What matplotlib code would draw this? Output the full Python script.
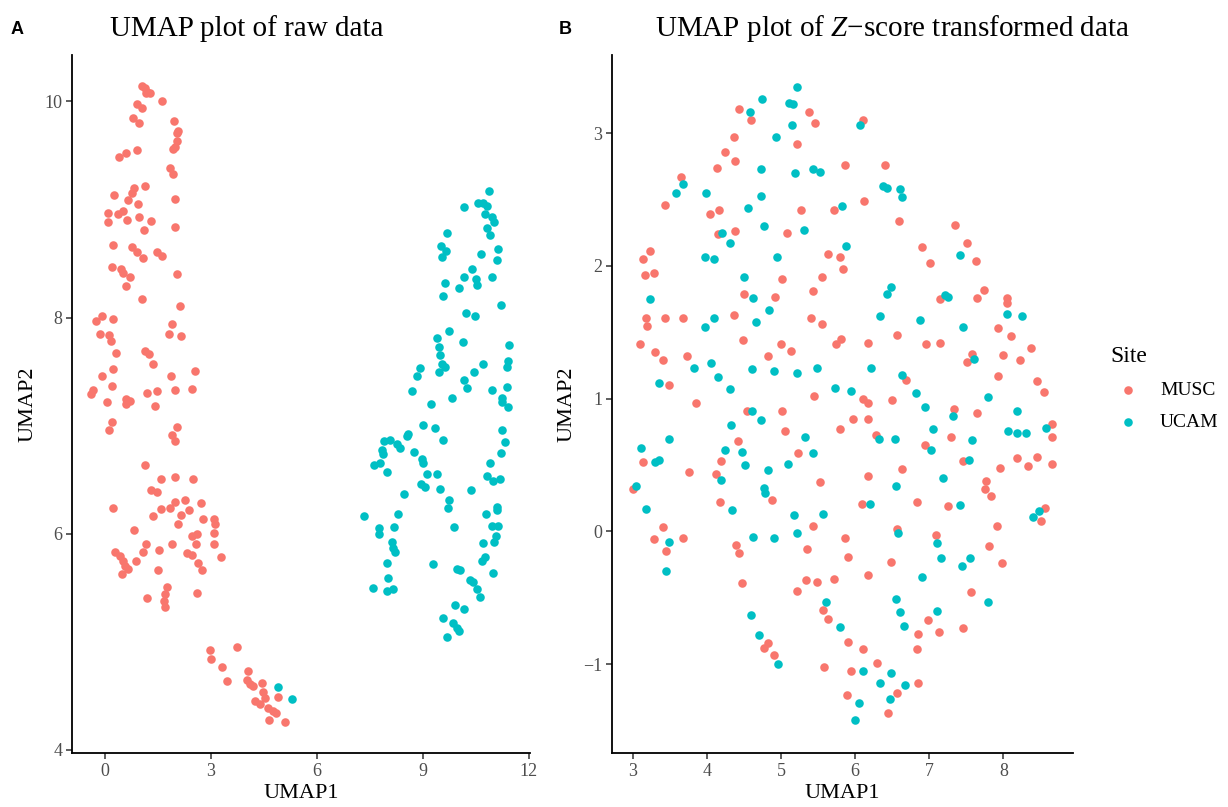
import matplotlib
matplotlib.use("Agg")
import matplotlib.pyplot as plt
import numpy as np

plt.rcParams['font.family'] = ['Liberation Serif', 'DejaVu Serif']
plt.rcParams['mathtext.fontset'] = 'custom'
plt.rcParams['mathtext.rm'] = 'Liberation Serif'
plt.rcParams['mathtext.it'] = 'Liberation Serif:italic'

MUSC_COLOR = '#F8766D'
UCAM_COLOR = '#00BFC4'

# panel A: raw data
raw_musc = [
    (1.04, 10.14), (1.13, 10.12), (1.20, 10.09), (1.27, 10.08), (1.16, 10.08), (1.61, 10.00), (0.90, 9.98),
    (1.04, 9.94), (0.80, 9.85), (0.96, 9.80), (1.96, 9.82), (2.08, 9.73), (2.05, 9.71), (2.03, 9.63),
    (1.98, 9.58), (1.94, 9.56), (0.41, 9.49), (0.61, 9.52), (0.90, 9.55), (1.84, 9.38), (1.94, 9.33),
    (1.15, 9.22), (0.82, 9.20), (0.76, 9.15), (0.66, 9.09), (0.26, 9.13), (0.93, 9.05), (1.98, 9.10),
    (0.09, 8.97), (0.38, 8.96), (0.52, 8.99), (0.08, 8.88), (0.64, 8.90), (0.96, 8.93), (1.30, 8.89),
    (1.11, 8.81), (2.00, 8.84), (0.24, 8.67), (0.76, 8.65), (0.90, 8.61), (1.08, 8.55), (1.48, 8.61),
    (1.63, 8.57), (0.19, 8.47), (0.47, 8.45), (0.52, 8.41), (0.71, 8.38), (0.59, 8.29), (2.03, 8.40),
    (1.04, 8.17), (2.14, 8.11), (-0.25, 7.97), (-0.09, 8.01), (0.22, 7.99), (-0.14, 7.85), (0.12, 7.84),
    (0.17, 7.78), (1.89, 7.94), (1.82, 7.85), (2.17, 7.83), (0.33, 7.67), (1.13, 7.69), (1.25, 7.66),
    (1.37, 7.57), (0.22, 7.52), (-0.07, 7.46), (1.87, 7.46), (2.55, 7.51), (-0.33, 7.33), (-0.38, 7.29),
    (0.19, 7.37), (0.05, 7.22), (0.59, 7.25), (0.71, 7.23), (0.61, 7.20), (1.18, 7.30), (1.49, 7.32),
    (1.98, 7.33), (2.48, 7.34), (1.42, 7.18),
    (0.19, 7.03), (0.12, 6.96), (2.03, 6.99), (1.89, 6.91), (1.98, 6.86), (1.13, 6.64), (1.58, 6.51),
    (1.98, 6.52), (2.50, 6.51), (1.30, 6.40), (1.48, 6.39), (0.22, 6.24), (1.58, 6.23), (1.84, 6.24),
    (1.98, 6.29), (2.27, 6.31), (2.39, 6.22), (2.71, 6.28), (2.17, 6.17), (2.08, 6.09), (1.37, 6.16),
    (2.77, 6.14), (3.09, 6.14), (3.12, 6.09), (3.09, 6.01), (0.82, 6.03), (2.46, 5.98), (2.60, 6.00),
    (2.58, 5.90), (3.09, 5.90), (3.29, 5.78), (0.28, 5.83), (0.42, 5.79), (0.52, 5.75), (0.57, 5.70),
    (0.66, 5.67), (0.50, 5.63), (0.88, 5.75), (1.08, 5.83), (1.16, 5.90), (1.54, 5.85), (1.89, 5.90),
    (2.32, 5.82), (2.46, 5.80), (2.64, 5.73), (2.74, 5.66), (1.51, 5.66), (1.75, 5.51), (1.70, 5.44),
    (1.67, 5.38), (1.70, 5.32), (1.20, 5.40), (2.60, 5.45), (2.99, 4.92), (3.02, 4.84), (3.73, 4.95),
    (3.31, 4.77), (3.45, 4.64), (4.06, 4.73), (4.03, 4.65), (4.11, 4.61), (4.20, 4.59), (4.44, 4.62),
    (4.47, 4.53), (4.53, 4.48), (4.25, 4.45), (4.39, 4.42), (4.63, 4.39), (4.77, 4.36), (4.86, 4.34),
    (4.66, 4.28), (4.91, 4.49), (5.10, 4.26),
]
raw_ucam = [
    (4.91, 4.58), (5.31, 4.47),
    (10.88, 9.17), (10.18, 9.02), (10.58, 9.06), (10.72, 9.06), (10.81, 9.03), (10.76, 8.96), (10.95, 8.93),
    (11.02, 8.88), (10.81, 8.83), (10.91, 8.76), (9.68, 8.78), (9.52, 8.66), (9.66, 8.62), (9.54, 8.56),
    (10.64, 8.59), (11.12, 8.63), (11.10, 8.53), (10.39, 8.45), (10.17, 8.38), (10.51, 8.36), (10.53, 8.30),
    (10.95, 8.38), (9.63, 8.32), (10.03, 8.27), (9.58, 8.20), (11.21, 8.12), (10.23, 8.04), (10.48, 8.01),
    (9.75, 7.88), (10.15, 7.77), (9.42, 7.81), (9.46, 7.73), (9.49, 7.65), (9.54, 7.57), (9.47, 7.50),
    (9.63, 7.54), (11.45, 7.75), (11.43, 7.60), (11.38, 7.54), (10.72, 7.57), (10.45, 7.50), (10.17, 7.42),
    (10.25, 7.35), (10.95, 7.33), (11.40, 7.36), (11.24, 7.26), (9.82, 7.26), (8.69, 7.32), (8.92, 7.53),
    (8.83, 7.46),
    (9.25, 7.20), (11.24, 7.22), (11.43, 7.17), (9.02, 7.01), (9.35, 6.98), (9.57, 6.87), (8.59, 6.92),
    (8.55, 6.90), (7.90, 6.86), (8.07, 6.87), (8.26, 6.83), (8.36, 6.79), (7.84, 6.77), (7.87, 6.74),
    (8.75, 6.76), (8.97, 6.69), (9.00, 6.65), (7.62, 6.64), (7.79, 6.65), (7.98, 6.57), (9.11, 6.55),
    (9.40, 6.55), (8.94, 6.46), (9.07, 6.43), (9.49, 6.41), (8.48, 6.37), (10.36, 6.40), (9.75, 6.31),
    (9.73, 6.24), (11.24, 6.96), (11.33, 6.85), (11.21, 6.75), (10.91, 6.65), (10.83, 6.53), (11.00, 6.49),
    (11.19, 6.51), (10.79, 6.18), (11.10, 6.25), (11.11, 6.22), (8.31, 6.18), (7.35, 6.16), (7.76, 6.05),
    (7.76, 6.00), (8.19, 6.06), (8.12, 5.92), (8.17, 5.87), (8.22, 5.83), (9.89, 6.06), (10.72, 5.91),
    (10.95, 6.07), (11.14, 6.07), (11.08, 5.98), (11.02, 5.92), (8.00, 5.73), (8.03, 5.59), (8.00, 5.47),
    (8.17, 5.49), (7.58, 5.50), (9.30, 5.72), (9.98, 5.67), (10.06, 5.66), (10.34, 5.57), (10.43, 5.55),
    (10.53, 5.49), (10.62, 5.41), (10.67, 5.75), (10.76, 5.78), (11.00, 5.64), (9.92, 5.34), (10.17, 5.30),
    (9.58, 5.22), (9.85, 5.17), (9.96, 5.13), (10.04, 5.10), (9.70, 5.04),
]

# panel B: z-score transformed data
z_musc = [
    (4.44, 3.18), (4.59, 3.10), (5.38, 3.16), (5.46, 3.08), (6.10, 3.10), (4.36, 2.97), (5.21, 2.92),
    (4.25, 2.86), (4.13, 2.74), (4.38, 2.79), (5.87, 2.76), (3.65, 2.67), (3.43, 2.46), (4.04, 2.39),
    (4.16, 2.42), (5.27, 2.42), (5.72, 2.42), (6.12, 2.49), (4.15, 2.24), (4.38, 2.26), (5.08, 2.25),
    (3.14, 2.05), (3.23, 2.11), (3.17, 1.93), (3.29, 1.95), (5.63, 2.09), (5.80, 2.07), (5.83, 1.98),
    (5.02, 1.90), (5.56, 1.92), (4.50, 1.79), (4.92, 1.77), (5.43, 1.81), (3.18, 1.61), (3.19, 1.55),
    (3.43, 1.61), (3.68, 1.61), (4.37, 1.63), (5.40, 1.61), (5.56, 1.56), (3.10, 1.41), (4.49, 1.44),
    (5.00, 1.41), (5.14, 1.36), (5.74, 1.41), (5.81, 1.45), (6.18, 1.42), (3.30, 1.35), (3.41, 1.29),
    (3.73, 1.32), (4.82, 1.32), (3.49, 1.10), (5.45, 1.02), (6.11, 1.00), (6.17, 0.97),
    (3.85, 0.97), (4.54, 0.91), (5.02, 0.91), (5.05, 0.76), (4.42, 0.68), (5.80, 0.77), (5.97, 0.85),
    (6.17, 0.85), (3.14, 0.52), (3.76, 0.45), (4.19, 0.53), (4.12, 0.43), (4.18, 0.22), (4.88, 0.24),
    (5.23, 0.59), (5.52, 0.37), (6.17, 0.42), (6.09, 0.21), (3.01, 0.32), (5.43, 0.04), (3.41, 0.03),
    (3.28, -0.06), (3.45, -0.15), (3.68, -0.05), (4.39, -0.10), (4.44, -0.16), (4.47, -0.39), (5.35, -0.13),
    (5.87, -0.05), (5.91, -0.19), (6.18, -0.33), (5.21, -0.45), (5.34, -0.37), (5.49, -0.38), (5.72, -0.36),
    (5.57, -0.59), (5.64, -0.66), (4.77, -0.88), (4.82, -0.84), (4.91, -0.93), (5.90, -0.83), (6.10, -0.89),
    (5.58, -1.02), (5.94, -1.05), (5.89, -1.23),
    (6.40, 2.76), (6.59, 2.34), (7.35, 2.31), (6.90, 2.14), (7.51, 2.17), (7.01, 2.02), (7.63, 2.04),
    (7.74, 1.82), (7.64, 1.76), (7.14, 1.75), (8.05, 1.76), (8.05, 1.72), (7.93, 1.53), (8.11, 1.47),
    (6.57, 1.48), (6.96, 1.41), (7.15, 1.42), (8.38, 1.38), (7.99, 1.33), (8.22, 1.29), (7.58, 1.34),
    (7.51, 1.28), (6.69, 1.14), (7.93, 1.17), (8.45, 1.13), (8.55, 1.05), (6.50, 0.99),
    (7.33, 0.92), (7.65, 0.89), (6.28, 0.73), (6.94, 0.65), (7.29, 0.71), (7.46, 0.53), (8.66, 0.81),
    (8.66, 0.71), (7.95, 0.48), (8.18, 0.55), (8.33, 0.49), (8.45, 0.56), (8.66, 0.51), (6.63, 0.47),
    (7.76, 0.38), (7.75, 0.32), (7.83, 0.27), (6.84, 0.22), (7.25, 0.19), (8.56, 0.18), (8.51, 0.08),
    (7.92, 0.04), (6.56, 0.02), (7.09, -0.03), (7.80, -0.11), (6.48, -0.23), (7.98, -0.24), (7.56, -0.46),
    (6.99, -0.67), (6.85, -0.77), (7.13, -0.76), (7.46, -0.73), (6.84, -0.89), (6.29, -0.99), (6.85, -1.14),
    (6.57, -1.22), (6.45, -1.37),
]
z_ucam = [
    (5.22, 3.35), (4.74, 3.26), (5.11, 3.23), (5.16, 3.22), (4.58, 3.16), (5.15, 3.06), (6.06, 3.06),
    (4.93, 2.97), (4.73, 2.73), (5.19, 2.70), (5.43, 2.73), (5.52, 2.71), (3.68, 2.62), (3.59, 2.55),
    (3.99, 2.55), (4.73, 2.53), (4.56, 2.44), (5.82, 2.45), (4.21, 2.25), (4.31, 2.17), (4.77, 2.30),
    (5.31, 2.27), (5.88, 2.15), (3.98, 2.07), (4.09, 2.05), (4.94, 2.07), (4.50, 1.92), (3.23, 1.75),
    (4.62, 1.76), (4.84, 1.67), (4.10, 1.61), (3.97, 1.54), (4.66, 1.58), (3.82, 1.23), (4.05, 1.27),
    (4.15, 1.16), (4.61, 1.22), (4.90, 1.21), (5.21, 1.19), (5.49, 1.23), (6.22, 1.23), (3.35, 1.12),
    (4.31, 1.07), (5.73, 1.08), (5.94, 1.06),
    (4.61, 0.91), (4.73, 0.84), (4.33, 0.80), (5.32, 0.71), (3.11, 0.63), (3.30, 0.52), (3.35, 0.54),
    (3.49, 0.70), (4.25, 0.61), (4.47, 0.60), (4.52, 0.50), (4.19, 0.39), (4.34, 0.16), (4.82, 0.46),
    (4.77, 0.33), (4.79, 0.29), (5.09, 0.51), (5.43, 0.59), (6.20, 0.21), (3.05, 0.34), (3.18, 0.17),
    (5.18, 0.12), (5.21, -0.01), (5.57, 0.13), (3.49, -0.08), (3.45, -0.30), (4.62, -0.04), (4.90, -0.05),
    (5.61, -0.53), (5.79, -0.72), (4.59, -0.63), (4.71, -0.78), (4.96, -1.00), (6.10, -1.05), (6.05, -1.29),
    (6.00, -1.42),
    (6.37, 2.60), (6.43, 2.59), (6.61, 2.58), (6.63, 2.52), (7.42, 2.08), (6.49, 1.84), (6.43, 1.79),
    (7.21, 1.78), (7.25, 1.77), (8.05, 1.64), (8.25, 1.62), (6.34, 1.62), (6.88, 1.59), (7.46, 1.54),
    (7.60, 1.30), (6.63, 1.18), (6.82, 1.04), (7.79, 1.01),
    (6.94, 0.94), (7.32, 0.87), (8.18, 0.91), (6.32, 0.70), (6.54, 0.70), (7.05, 0.77), (7.02, 0.61),
    (7.58, 0.69), (7.54, 0.54), (8.06, 0.76), (8.18, 0.74), (8.31, 0.74), (8.57, 0.78), (6.55, 0.34),
    (7.18, 0.40), (7.42, 0.20), (8.48, 0.15), (8.40, 0.11), (6.58, -0.01), (7.10, -0.09), (7.16, -0.20),
    (7.55, -0.20), (7.44, -0.26), (6.90, -0.34), (7.79, -0.53), (6.55, -0.51), (6.60, -0.61), (7.11, -0.60),
    (6.66, -0.71), (6.48, -1.07), (6.33, -1.14), (6.67, -1.16), (6.47, -1.26),
]

ticks_a_x = [0, 3, 6, 9, 12]
ticks_a_y = [4, 6, 8, 10]
ticks_b_x = [3, 4, 5, 6, 7, 8]
ticks_b_y = [-1, 0, 1, 2, 3]


def style_axes(ax):
    for side in ['top', 'right']:
        ax.spines[side].set_visible(False)
    for side in ['left', 'bottom']:
        ax.spines[side].set_linewidth(1.3)
        ax.spines[side].set_color('black')
    ax.tick_params(axis='both', length=4, width=1.1, color='#333333',
                   labelsize=13, labelcolor='#4D4D4D', pad=3)
    ax.set_xlabel('UMAP1', fontsize=16, labelpad=3)
    ax.set_ylabel('UMAP2', fontsize=16, labelpad=5)


fig = plt.figure(figsize=(12.28, 8.07), dpi=100)
W, H = 1228.0, 807.0

ax_a = fig.add_axes([72 / W, (H - 753) / H, (530 - 72) / W, (753 - 55) / H])
ax_b = fig.add_axes([612 / W, (H - 753) / H, (1073 - 612) / W, (753 - 55) / H])

a_m = np.array(raw_musc)
a_u = np.array(raw_ucam)
ax_a.scatter(a_m[:, 0], a_m[:, 1], s=38, color=MUSC_COLOR, linewidths=0, zorder=3)
ax_a.scatter(a_u[:, 0], a_u[:, 1], s=38, color=UCAM_COLOR, linewidths=0, zorder=3)
ax_a.set_xlim(-0.93, 12.04)
ax_a.set_ylim(3.97, 10.43)
ax_a.set_xticks(ticks_a_x)
ax_a.set_yticks(ticks_a_y)
style_axes(ax_a)

b_m = np.array(z_musc)
b_u = np.array(z_ucam)
h_m = ax_b.scatter(b_m[:, 0], b_m[:, 1], s=38, color=MUSC_COLOR, linewidths=0, zorder=3, label='MUSC')
h_u = ax_b.scatter(b_u[:, 0], b_u[:, 1], s=38, color=UCAM_COLOR, linewidths=0, zorder=3, label='UCAM')
ax_b.set_xlim(2.72, 8.94)
ax_b.set_ylim(-1.67, 3.59)
ax_b.set_xticks(ticks_b_x)
ax_b.set_yticks(ticks_b_y)
style_axes(ax_b)

fig.text(247 / W, 1 - 29 / H, 'UMAP plot of raw data', fontsize=21, ha='center', va='center')
fig.text(893 / W, 1 - 29 / H, 'UMAP plot of $\\mathit{Z}$\u2212score transformed data',
         fontsize=21, ha='center', va='center')
fig.text(17 / W, 1 - 29 / H, 'A', fontsize=13, fontweight='bold', family='Liberation Sans',
         ha='center', va='center')
fig.text(565 / W, 1 - 29 / H, 'B', fontsize=13, fontweight='bold', family='Liberation Sans',
         ha='center', va='center')

leg = fig.legend(handles=[h_m, h_u], labels=['MUSC', 'UCAM'], loc='upper left',
                 bbox_to_anchor=(1110 / W, 1 - 346 / H), frameon=False, title='Site',
                 fontsize=14, title_fontproperties={'size': 17, 'family': 'Liberation Serif'},
                 alignment='left', borderpad=0, borderaxespad=0, handlelength=1.85,
                 handletextpad=0.72, labelspacing=0.74)

fig.savefig('out.png', dpi=100)
